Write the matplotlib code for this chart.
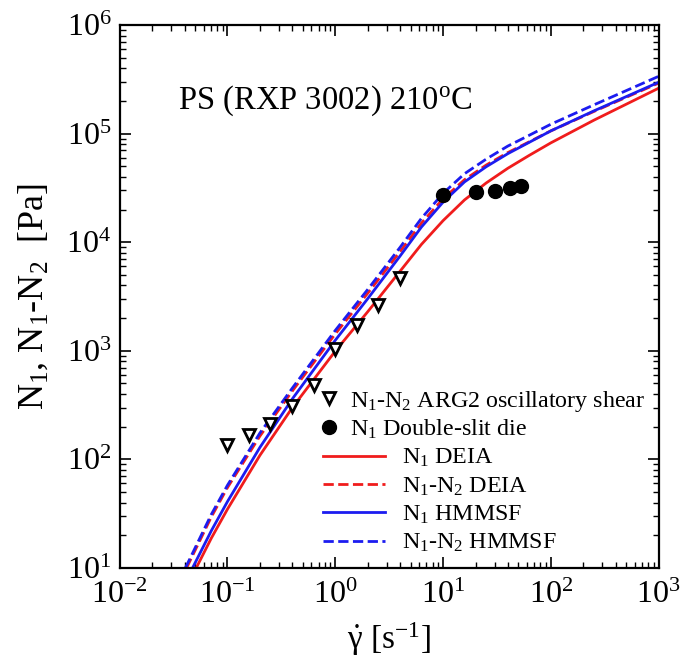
import numpy as np
import matplotlib
matplotlib.use("Agg")
import matplotlib.pyplot as plt

plt.rcParams['font.family'] = 'serif'
plt.rcParams['font.serif'] = ['Liberation Serif', 'DejaVu Serif']
plt.rcParams['mathtext.fontset'] = 'custom'
plt.rcParams['mathtext.rm'] = 'Liberation Serif'
plt.rcParams['mathtext.it'] = 'Liberation Serif:italic'
plt.rcParams['mathtext.bf'] = 'Liberation Serif:bold'

# experimental data
rate_osc = [0.1, 0.158, 0.25, 0.4, 0.63, 1.0, 1.58, 2.5, 4.0]
n1n2_osc = [137, 169, 214, 308, 485, 1040, 1710, 2650, 4700]

rate_slit = [10, 20, 30, 42, 53]
n1_slit = [27300, 28700, 29800, 31300, 33000]

# model curves
rate_deia_n1 = [0.0513, 0.0708, 0.1, 0.2, 0.4, 1, 2, 4, 6.3, 10, 15.8, 25.1, 39.8, 63.1, 100, 251, 1000]
n1_deia = [10, 18.8, 34.8, 109, 300, 993, 2290, 5420, 9550, 15800, 24500, 35100, 47900, 63100, 82200, 133000, 262000]

rate_deia_n12 = [0.0417, 0.0708, 0.1, 0.2, 0.4, 1, 2, 4, 6.3, 10, 15.8, 25.1, 39.8, 63.1, 100, 251, 1000]
n12_deia = [10, 29.5, 55.0, 164, 427, 1430, 3390, 8220, 15000, 25100, 37600, 51300, 66800, 84100, 106000, 160000, 292000]

rate_hmmsf_n1 = [0.0474, 0.0708, 0.1, 0.2, 0.4, 1, 2, 4, 6.3, 10, 15.8, 25.1, 39.8, 63.1, 100, 251, 1000]
n1_hmmsf = [10, 22.0, 40.9, 129, 361, 1250, 3020, 7480, 13800, 23400, 35900, 49500, 65300, 83200, 106000, 162000, 297000]

rate_hmmsf_n12 = [0.0407, 0.0708, 0.1, 0.2, 0.4, 1, 2, 4, 6.3, 10, 15.8, 25.1, 39.8, 63.1, 100, 251, 1000]
n12_hmmsf = [10, 31.1, 57.8, 175, 454, 1540, 3670, 8990, 16600, 28200, 42700, 58200, 76700, 96600, 122000, 184000, 337000]

fig = plt.figure(figsize=(6.85, 6.65), dpi=100)
ax = fig.add_axes([0.1747, 0.1459, 0.7869, 0.8165])

lw = 2.0
l1, = ax.plot(rate_deia_n1, n1_deia, color='#f01c1c', linestyle='-', linewidth=lw, label=r'N$_1$ DEIA')
l2, = ax.plot(rate_deia_n12, n12_deia, color='#f01c1c', linestyle='--', linewidth=lw, label=r'N$_1$-N$_2$ DEIA')
l3, = ax.plot(rate_hmmsf_n1, n1_hmmsf, color='#1c1cf0', linestyle='-', linewidth=lw, label=r'N$_1$ HMMSF')
l4, = ax.plot(rate_hmmsf_n12, n12_hmmsf, color='#1c1cf0', linestyle='--', linewidth=lw, label=r'N$_1$-N$_2$ HMMSF')

m1, = ax.plot(rate_osc, n1n2_osc, linestyle='None', marker='v', markersize=9,
              markerfacecolor='white', markeredgecolor='black', markeredgewidth=2.0,
              label=r'N$_1$-N$_2$ ARG2 oscillatory shear')
m2, = ax.plot(rate_slit, n1_slit, linestyle='None', marker='o', markersize=10,
              color='black', label=r'N$_1$ Double-slit die')

ax.set_xscale('log')
ax.set_yscale('log')
ax.set_xlim(1e-2, 1e3)
ax.set_ylim(1e1, 1e6)

ax.tick_params(which='major', direction='in', length=8, width=1.2, top=True, right=True, labelsize=23)
ax.tick_params(axis='x', which='major', pad=9)
ax.tick_params(axis='y', which='major', pad=6)
ax.tick_params(which='minor', direction='in', length=4.5, width=1.0, top=True, right=True)
for sp in ax.spines.values():
    sp.set_linewidth(1.6)

ax.set_xlabel(r'$\dot{\mathrm{\gamma}}$ [s$^{-1}$]', fontsize=24, labelpad=8)
ax.set_ylabel(r'N$_1$, N$_1$-N$_2$  [Pa]', fontsize=26, labelpad=11)

ax.text(0.108, 0.86, r'PS (RXP 3002) 210$^{\mathrm{o}}$C', transform=ax.transAxes,
        fontsize=23.5, ha='left', va='center')

leg1 = ax.legend(handles=[m1, m2], loc='center left', bbox_to_anchor=(0.388, 0.282),
                 frameon=False, fontsize=17.3, handlelength=0, handletextpad=0.9,
                 borderpad=0, borderaxespad=0, labelspacing=0.15)
ax.add_artist(leg1)
ax.legend(handles=[l1, l2, l3, l4], loc='center left', bbox_to_anchor=(0.377, 0.124),
          frameon=False, fontsize=17.3, handlelength=2.6, handletextpad=0.7,
          borderpad=0, borderaxespad=0, labelspacing=0.25)

fig.savefig('out.png', dpi=100)
